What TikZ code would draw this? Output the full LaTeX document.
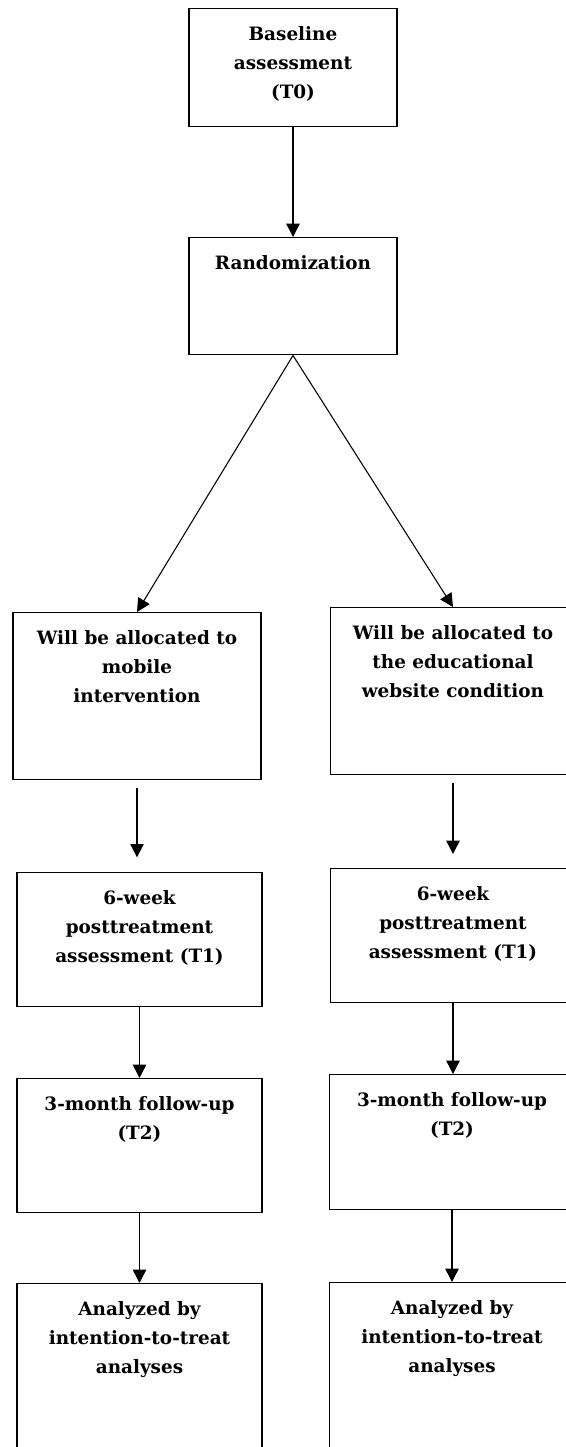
\documentclass[tikz,border=0pt]{standalone}
\usepackage{fontspec}
\setmainfont{DejaVu Serif}
\usetikzlibrary{arrows.meta}

\begin{document}
\begin{tikzpicture}[x=0.75pt, y=-0.75pt,
		stage/.style={draw, line width=1.1pt, anchor=north, inner sep=0pt},
		stagetext/.style={anchor=north, align=center, inner sep=0pt, yshift=-14pt, font=\bfseries\fontsize{13.8}{21.75}\selectfont},
		flow/.style={-{Triangle[width=10pt,length=10pt]}, line width=1.1pt}]
		\useasboundingbox (0,0) rectangle (565,1447);

		% top of the flow
		\draw (293,8) node (base) [stage, minimum width=156pt, minimum height=88.5pt] {};
		\draw (base.north) node (basetext) [stagetext] {Baseline\\assessment\\(T0)};
		\draw (293,237) node (rand) [stage, minimum width=156pt, minimum height=87.75pt] {};
		\draw (rand.north) node (randtext) [stagetext] {Randomization};

		% mobile arm
		\draw (137,612) node (mob) [stage, minimum width=186pt, minimum height=125.25pt] {};
		\draw (mob.north) node (mobtext) [stagetext] {Will be allocated to\\mobile\\intervention};
		\draw (139.5,872) node (mobpost) [stage, minimum width=183.75pt, minimum height=100.5pt] {};
		\draw (mobpost.north) node (mobposttext) [stagetext] {6-week\\posttreatment\\assessment (T1)};
		\draw (139.5,1078) node (mobfollow) [stage, minimum width=183.75pt, minimum height=100.5pt] {};
		\draw (mobfollow.north) node (mobfollowtext) [stagetext] {3-month follow-up\\(T2)};
		\draw (139.5,1283) node (mobitt) [stage, minimum width=183.75pt, minimum height=150pt] {};
		\draw (mobitt.north) node (mobitttext) [stagetext] {Analyzed by\\intention-to-treat\\analyses};

		% website arm
		\draw (453,607) node (web) [stage, minimum width=183.75pt, minimum height=125.25pt] {};
		\draw (web.north) node (webtext) [stagetext] {Will be allocated to\\the educational\\website condition};
		\draw (453,868) node (webpost) [stage, minimum width=183.75pt, minimum height=100.5pt] {};
		\draw (webpost.north) node (webposttext) [stagetext] {6-week\\posttreatment\\assessment (T1)};
		\draw (452,1074) node (webfollow) [stage, minimum width=183.75pt, minimum height=101.25pt] {};
		\draw (webfollow.north) node (webfollowtext) [stagetext] {3-month follow-up\\(T2)};
		\draw (452,1282) node (webitt) [stage, minimum width=183.75pt, minimum height=150pt] {};
		\draw (webitt.north) node (webitttext) [stagetext] {Analyzed by\\intention-to-treat\\analyses};

		% arrows
		\draw[flow] (base.south) -- (rand.north);
		\draw[flow, line width=0.8pt] (rand.south) -- (mob.north);
		\draw[flow, line width=0.8pt] (rand.south) -- (web.north);
		\draw[flow, shorten <=6pt, shorten >=11pt] (mob.south) -- (mob.south |- mobpost.north);
		\draw[flow, shorten <=6pt, shorten >=10.5pt] (web.south) -- (web.south |- webpost.north);
		\draw[flow] (mobpost.south) -- (mobfollow.north);
		\draw[flow] (mobfollow.south) -- (mobitt.north);
		\draw[flow] (webpost.south) -- (webpost.south |- webfollow.north);
		\draw[flow] (webfollow.south) -- (webitt.north);

	\end{tikzpicture}
\end{document}
